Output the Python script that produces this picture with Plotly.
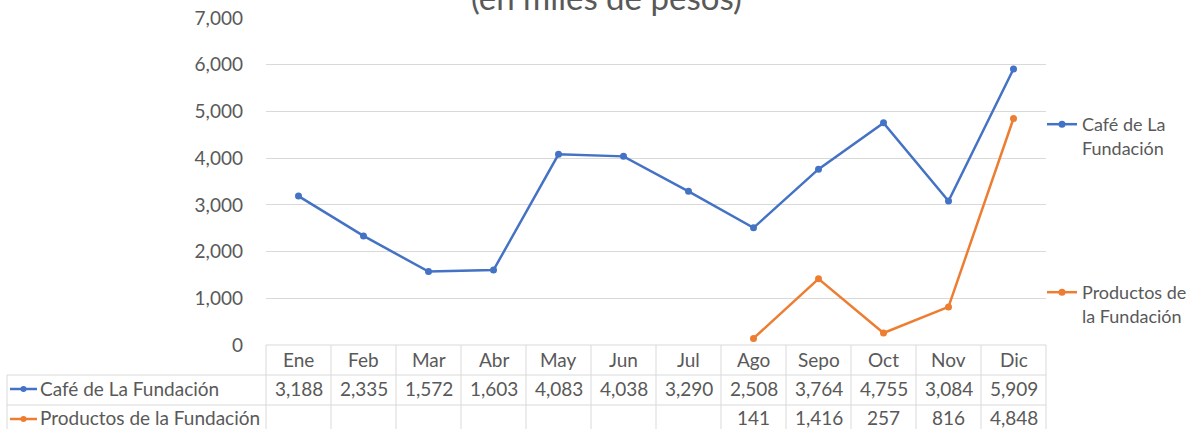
import plotly.graph_objects as go

months = ["Ene", "Feb", "Mar", "Abr", "May", "Jun", "Jul", "Ago", "Sepo", "Oct", "Nov", "Dic"]
cafe_name = "Café de La Fundación"
prod_name = "Productos de la Fundación"
cafe = [3188, 2335, 1572, 1603, 4083, 4038, 3290, 2508, 3764, 4755, 3084, 5909]
productos = [None, None, None, None, None, None, None, 141, 1416, 257, 816, 4848]
subtitle = "(en miles de pesos)"
y_ticks = [0, 1000, 2000, 3000, 4000, 5000, 6000, 7000]

BLUE = "#4472C4"
ORANGE = "#ED7D31"
GRAY = "#595959"
GRID = "#D9D9D9"
FONT = "Lato"
FS = 19

W, H = 1199, 429
ML, MR, MT, MB = 266, 153, 18, 84
PW = W - ML - MR
PH = H - MT - MB


def px_x(px):
    return (px - ML) / PW


def px_y(py):
    return (H - MB - py) / PH


fig = go.Figure()
fig.add_trace(go.Scatter(
    x=months, y=cafe, name="Café de La<br>Fundación", mode="lines+markers",
    line=dict(color=BLUE, width=2.5), marker=dict(size=7, color=BLUE),
    legend="legend", showlegend=True))
fig.add_trace(go.Scatter(
    x=months, y=productos, name="Productos de<br>la Fundación", mode="lines+markers",
    line=dict(color=ORANGE, width=2.5), marker=dict(size=7, color=ORANGE),
    legend="legend2", showlegend=True))

shapes = []
annotations = []
n = len(months)
row_tops = [345, 375, 405, 435]
# table grid
shapes.append(dict(type="line", xref="paper", yref="paper", x0=0, x1=1,
                   y0=px_y(row_tops[0]), y1=px_y(row_tops[0]), line=dict(color=GRID, width=1)))
for r in row_tops[1:]:
    shapes.append(dict(type="line", xref="paper", yref="paper", x0=px_x(7), x1=1,
                       y0=px_y(r), y1=px_y(r), line=dict(color=GRID, width=1)))
shapes.append(dict(type="line", xref="paper", yref="paper", x0=px_x(7), x1=px_x(7),
                   y0=px_y(row_tops[1]), y1=px_y(row_tops[3]), line=dict(color=GRID, width=1)))
for i in range(n + 1):
    shapes.append(dict(type="line", xref="paper", yref="paper", x0=i / n, x1=i / n,
                       y0=px_y(row_tops[0]), y1=px_y(row_tops[3]), line=dict(color=GRID, width=1)))

row_c = [(row_tops[k] + row_tops[k + 1]) / 2 for k in range(3)]
text_c = [row_c[0] - 1, row_c[1] - 2, row_c[2] - 3]
cell_font = dict(family=FONT, size=FS, color=GRAY)
for i, m in enumerate(months):
    annotations.append(dict(xref="x", yref="paper", x=m, y=px_y(text_c[0]), text=m,
                            xanchor="center", yanchor="middle", showarrow=False, font=cell_font))
    if cafe[i] is not None:
        annotations.append(dict(xref="x", yref="paper", x=m, y=px_y(text_c[1]), text=f"{cafe[i]:,}",
                                xanchor="center", yanchor="middle", showarrow=False, font=cell_font))
    if productos[i] is not None:
        annotations.append(dict(xref="x", yref="paper", x=m, y=px_y(text_c[2]), text=f"{productos[i]:,}",
                                xanchor="center", yanchor="middle", showarrow=False, font=cell_font))

for k, (nm, col) in enumerate([(cafe_name, BLUE), (prod_name, ORANGE)]):
    yc = px_y(row_c[k + 1] - 1)
    shapes.append(dict(type="line", xref="paper", yref="paper", x0=px_x(10), x1=px_x(37),
                       y0=yc, y1=yc, line=dict(color=col, width=2.5)))
    shapes.append(dict(type="circle", xref="paper", yref="paper",
                       x0=px_x(20.5), x1=px_x(26.5), y0=yc - 3 / PH, y1=yc + 3 / PH,
                       fillcolor=col, line=dict(color=col, width=0)))
    annotations.append(dict(xref="paper", yref="paper", x=px_x(38), y=px_y(text_c[k + 1]), text=nm,
                            xanchor="left", yanchor="middle", showarrow=False, font=cell_font))

annotations.append(dict(xref="paper", yref="paper", x=px_x(606), y=px_y(19),
                        xanchor="center", yanchor="bottom",
                        text=subtitle, showarrow=False,
                        font=dict(family=FONT, size=33, color=GRAY)))

fig.update_layout(
    width=W, height=H,
    margin=dict(l=ML, r=MR, t=MT, b=MB, autoexpand=False),
    paper_bgcolor="white", plot_bgcolor="white",
    showlegend=True,
    font=dict(family=FONT, size=FS, color=GRAY),
    shapes=shapes, annotations=annotations,
    legend=dict(x=px_x(1042), y=px_y(106), xanchor="left", yanchor="top", valign="top",
                bgcolor="rgba(0,0,0,0)", font=dict(family=FONT, size=18, color=GRAY)),
    legend2=dict(x=px_x(1042), y=px_y(274), xanchor="left", yanchor="top", valign="top",
                 bgcolor="rgba(0,0,0,0)", font=dict(family=FONT, size=18, color=GRAY)),
    xaxis=dict(range=[-0.5, n - 0.5], showticklabels=False, showgrid=False,
               zeroline=False, showline=False, ticks=""),
    yaxis=dict(range=[0, 7000], tickvals=y_ticks, tickformat=",d", showgrid=True,
               gridcolor=GRID, gridwidth=1, zeroline=False, showline=False, ticks="",
               ticklabelstandoff=22, tickfont=dict(family=FONT, size=FS, color=GRAY)),
)

fig.write_html("out.html", config={"displayModeBar": False},
               post_script="document.body.style.margin='0';")
